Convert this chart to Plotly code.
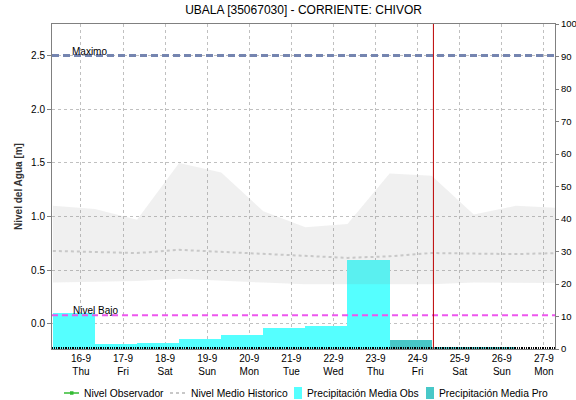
import pandas as pd
import plotly.graph_objects as go

# Daily periods (08:00 to 08:00) for precipitation bars
obs_start = ["2021-09-15 08:00", "2021-09-16 08:00", "2021-09-17 08:00", "2021-09-18 08:00",
             "2021-09-19 08:00", "2021-09-20 08:00", "2021-09-21 08:00", "2021-09-22 08:00"]
obs_precip = [11.1, 1.5, 1.85, 3.0, 4.2, 6.4, 7.1, 27.5]

pro_start = ["2021-09-23 08:00", "2021-09-24 08:00", "2021-09-25 08:00"]
pro_precip = [2.8, 0.6, 0.6]

# Historic level envelope and mean (m)
hist_dates = ["2021-09-15 08:00", "2021-09-16 08:00", "2021-09-17 08:00", "2021-09-18 08:00",
              "2021-09-19 08:00", "2021-09-20 08:00", "2021-09-21 08:00", "2021-09-22 08:00",
              "2021-09-23 08:00", "2021-09-24 08:00", "2021-09-25 08:00", "2021-09-26 08:00",
              "2021-09-27 08:00"]
hist_max = [1.10, 1.07, 0.97, 1.50, 1.41, 1.05, 0.90, 0.93, 1.40, 1.38, 1.02, 1.10, 1.08]
hist_min = [0.385, 0.39, 0.40, 0.42, 0.40, 0.385, 0.37, 0.37, 0.37, 0.37, 0.385, 0.385, 0.38]
hist_mean = [0.68, 0.67, 0.66, 0.69, 0.67, 0.65, 0.63, 0.615, 0.63, 0.66, 0.655, 0.65, 0.66]

tick_dates = ["2021-09-%02d" % d for d in range(16, 28)]
tick_days = ["Thu", "Fri", "Sat", "Sun", "Mon", "Tue", "Wed", "Thu", "Fri", "Sat", "Sun", "Mon"]
tick_text = ["%d-9<br>%s" % (d, w) for d, w in zip(range(16, 28), tick_days)]

legend_names = ["Nivel Observador", "Nivel Medio Historico",
                "Precipitación Media Obs", "Precipitación Media Pro"]

nivel_maximo = 2.5
nivel_bajo = 0.08
now = "2021-09-24 09:00"

DAY_MS = 86400000
FONT = "Liberation Sans, Arial, sans-serif"
OBS_COLOR = "#55ffff"
PRO_COLOR = "#48c8c8"
MEAN_COLOR = "#c8c8c8"
OBSERVER_COLOR = "#33bb33"

# plot area in pixels (used for the hand-drawn legend row)
L, R, T, B = 52, 21, 24, 51
PW, PH = 576 - L - R, 400 - T - B


def centers(starts):
    return [(pd.Timestamp(s) + pd.Timedelta(hours=12)).strftime("%Y-%m-%d %H:%M") for s in starts]


def px(x):
    return (x - L) / PW


def py(y):
    return (400 - B - y) / PH


fig = go.Figure()

# Precipitation bars on the right axis
fig.add_trace(go.Bar(
    x=centers(obs_start), y=obs_precip, width=[DAY_MS] * len(obs_start),
    name=legend_names[2], marker=dict(color=OBS_COLOR, line=dict(width=0)), yaxis="y"))
fig.add_trace(go.Bar(
    x=centers(pro_start), y=pro_precip, width=[DAY_MS] * len(pro_start),
    name=legend_names[3], marker=dict(color=PRO_COLOR, line=dict(width=0)), yaxis="y"))

# Historic envelope
fig.add_trace(go.Scatter(
    x=hist_dates, y=hist_min, mode="lines", line=dict(width=0),
    hoverinfo="skip", yaxis="y2"))
fig.add_trace(go.Scatter(
    x=hist_dates, y=hist_max, mode="lines", line=dict(width=0),
    fill="tonexty", fillcolor="rgba(128,128,128,0.12)", hoverinfo="skip", yaxis="y2"))

fig.add_trace(go.Scatter(
    x=hist_dates, y=hist_mean, mode="lines", name=legend_names[1],
    line=dict(color=MEAN_COLOR, width=2, dash="dot"), yaxis="y2"))

# Reference levels and current time
fig.add_shape(type="line", xref="paper", x0=0, x1=1, yref="y2", y0=nivel_maximo, y1=nivel_maximo,
              line=dict(color="#7585b0", width=3, dash="7px,4px"))
fig.add_shape(type="line", xref="paper", x0=0, x1=1, yref="y2", y0=nivel_bajo, y1=nivel_bajo,
              line=dict(color="#ee55ee", width=2, dash="6px,4px"))
fig.add_shape(type="line", x0=now, x1=now, yref="paper", y0=0, y1=1,
              line=dict(color="#bb0000", width=1))

fig.add_annotation(x="2021-09-15 17:30", y=nivel_maximo, yref="y2", text="Maximo",
                   showarrow=False, xanchor="left", yanchor="bottom", yshift=-3,
                   font=dict(family=FONT, size=10, color="#000"))
fig.add_annotation(x="2021-09-15 18:30", y=nivel_bajo, yref="y2", text="Nivel Bajo",
                   showarrow=False, xanchor="left", yanchor="bottom", yshift=-3,
                   font=dict(family=FONT, size=10, color="#000"))

# Legend row below the axis
LY = 393
legend_text_x = [82, 189, 305, 437]
for name, tx in zip(legend_names, legend_text_x):
    fig.add_annotation(xref="paper", yref="paper", x=px(tx), y=py(LY), text=name,
                       showarrow=False, xanchor="left", yanchor="middle",
                       font=dict(family=FONT, size=10.3, color="#000"))
fig.add_shape(type="line", xref="paper", yref="paper", x0=px(64), x1=px(79), y0=py(LY), y1=py(LY),
              line=dict(color=OBSERVER_COLOR, width=1.5))
fig.add_shape(type="rect", xref="paper", yref="paper", x0=px(70), x1=px(73.5),
              y0=py(LY - 1.75), y1=py(LY + 1.75),
              line=dict(width=0), fillcolor=OBSERVER_COLOR)
fig.add_shape(type="line", xref="paper", yref="paper", x0=px(170), x1=px(185), y0=py(LY), y1=py(LY),
              line=dict(color=MEAN_COLOR, width=2, dash="dot"))
fig.add_shape(type="rect", xref="paper", yref="paper", x0=px(294), x1=px(302),
              y0=py(LY + 6), y1=py(LY - 6), line=dict(width=0), fillcolor=OBS_COLOR)
fig.add_shape(type="rect", xref="paper", yref="paper", x0=px(426), x1=px(434),
              y0=py(LY + 6), y1=py(LY - 6), line=dict(width=0), fillcolor=PRO_COLOR)

fig.update_layout(
    width=576, height=400,
    margin=dict(l=L, r=R, t=T, b=B, autoexpand=False),
    paper_bgcolor="white", plot_bgcolor="white",
    font=dict(family=FONT, size=10, color="#000"),
    title=dict(text="UBALA [35067030] - CORRIENTE: CHIVOR", x=0.527, xanchor="center",
               y=0.975, yanchor="middle", font=dict(family=FONT, size=12, color="#000")),
    barmode="overlay", bargap=0,
    showlegend=False,
    xaxis=dict(type="date", range=["2021-09-15 07:30", "2021-09-27 06:20"],
               tickvals=tick_dates, ticktext=tick_text, ticks="",
               showgrid=True, gridcolor="#c0c0c0", griddash="dot", gridwidth=1,
               showline=True, linecolor="#808080", mirror=True, zeroline=False,
               tickfont=dict(family=FONT, size=10),
               minor=dict(dtick=3600000, ticks="inside", ticklen=2, tickcolor="#000", showgrid=False)),
    yaxis=dict(side="right", range=[0, 100], tickvals=list(range(0, 101, 10)),
               ticks="outside", ticklen=3, tickcolor="#808080",
               showgrid=False, zeroline=False, showline=True, linecolor="#808080",
               tickfont=dict(family=FONT, size=9.5)),
    yaxis2=dict(side="left", overlaying="y", range=[-0.234, 2.794],
                tickvals=[0, 0.5, 1.0, 1.5, 2.0, 2.5], ticktext=["0.0", "0.5", "1.0", "1.5", "2.0", "2.5"],
                ticks="outside", ticklen=4, tickcolor="#808080",
                showgrid=True, gridcolor="#c0c0c0", griddash="dot", gridwidth=1,
                zeroline=False, showline=True, linecolor="#808080",
                title=dict(text="<b>Nivel del Agua [m]</b>", standoff=6,
                           font=dict(family=FONT, size=10, color="#333")),
                tickfont=dict(family=FONT, size=10)),
)

fig.write_html("out.html")
